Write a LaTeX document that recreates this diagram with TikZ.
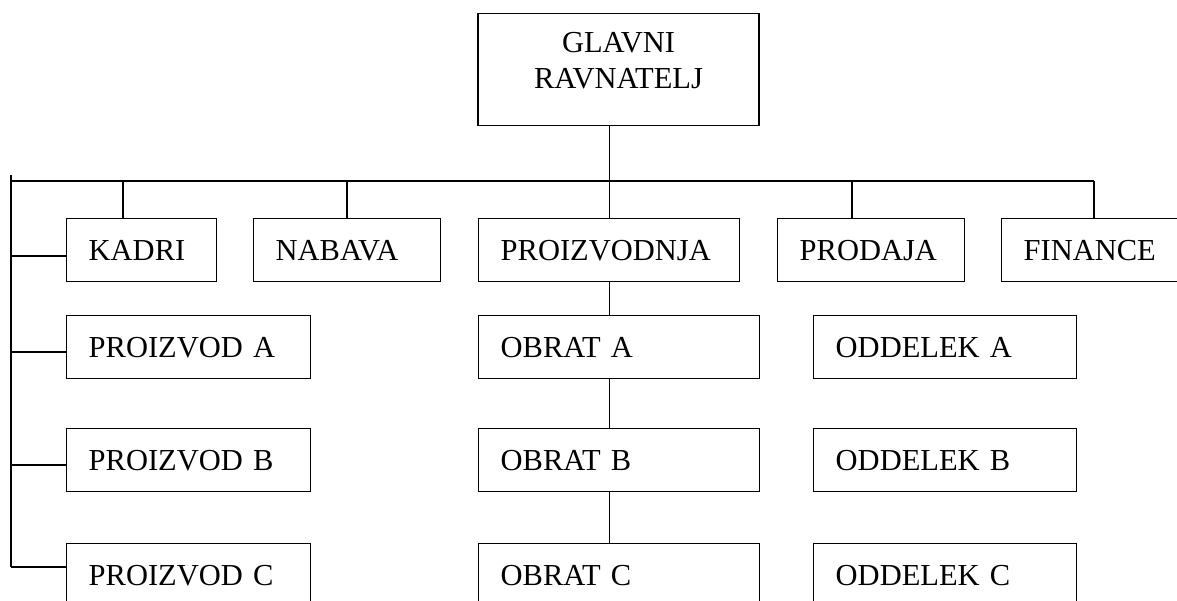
\documentclass[tikz,border=0pt]{standalone}
\usepackage{fontspec}
\setmainfont{Liberation Serif}
\usetikzlibrary{positioning}

\tikzset{
  orgbox/.style={draw, line width=1.4pt, anchor=north west, inner xsep=22pt, inner ysep=0pt,
    minimum height=63pt, align=left, text width=#1, font=\fontsize{30.5pt}{36pt}\selectfont},
  bossbox/.style={draw, line width=1.4pt, anchor=north, inner xsep=22pt, inner ysep=0pt,
    minimum height=112pt, text depth=54pt, align=center, text width=237pt,
    font=\fontsize{30.5pt}{36pt}\selectfont},
  wire/.style={line width=1.4pt}
}

\begin{document}
\begin{tikzpicture}[x=1pt,y=-1pt]
\useasboundingbox (0,0) rectangle (1177,601);
\clip (0,0) rectangle (1177,601);
\node[bossbox] (glavni) at (618.5,13) {GLAVNI\\RAVNATELJ};
\node[orgbox=106pt] (kadri) at (66,218) {KADRI};
\node[orgbox=143pt] (nabava) at (253,218) {NABAVA};
\node[orgbox=217pt] (proizv) at (478,218) {PROIZVODNJA};
\node[orgbox=143pt] (prodaja) at (777,218) {PRODAJA};
\node[orgbox=142pt] (finance) at (1001,218) {FINANCE};
\node[orgbox=200pt] (pa) at (66,315) {PROIZVOD A};
\node[orgbox=200pt] (pb) at (66,428) {PROIZVOD B};
\node[orgbox=200pt] (pc) at (66,543) {PROIZVOD C};
\node[orgbox=237pt] (oa) at (478,315) {OBRAT A};
\node[orgbox=237pt] (ob) at (478,428) {OBRAT B};
\node[orgbox=237pt] (oc) at (478,543) {OBRAT C};
\node[orgbox=219pt] (da) at (813,315) {ODDELEK A};
\node[orgbox=219pt] (db) at (813,428) {ODDELEK B};
\node[orgbox=219pt] (dc) at (813,543) {ODDELEK C};

\coordinate (busL) at (11,181);
\coordinate (busR) at (1094,181);
\coordinate (leftT) at (11,175);
\coordinate (leftB) at (11,567);
\coordinate (tapK) at (123,181);
\coordinate (tapN) at (347,181);
\coordinate (tapP) at (852,181);
\coordinate (linK) at (11,256);
\coordinate (linA) at (11,352);
\coordinate (linB) at (11,465);

\draw[wire] (busL) -- (busR);
\draw[wire] (leftT) -- (leftB);
\draw[wire] (glavni.south -| proizv.north) -- (proizv.north);
\draw[wire] (tapK) -- (tapK |- kadri.north);
\draw[wire] (tapN) -- (tapN |- nabava.north);
\draw[wire] (tapP) -- (tapP |- prodaja.north);
\draw[wire] (busR) -- (busR |- finance.north);
\draw[wire] (linK) -- (linK -| kadri.west);
\draw[wire] (linA) -- (linA -| pa.west);
\draw[wire] (linB) -- (linB -| pb.west);
\draw[wire] (leftB) -- (leftB -| pc.west);
\draw[wire] (proizv.south) -- (proizv.south |- oa.north);
\draw[wire] (proizv.south |- oa.south) -- (proizv.south |- ob.north);
\draw[wire] (proizv.south |- ob.south) -- (proizv.south |- oc.north);
\end{tikzpicture}
\end{document}
